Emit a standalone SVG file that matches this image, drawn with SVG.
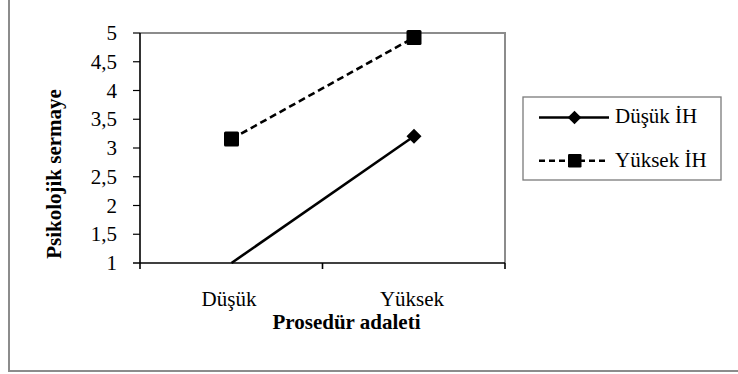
<svg xmlns="http://www.w3.org/2000/svg" width="738" height="374" viewBox="0 0 738 374" font-family="'Liberation Serif', Tinos, 'Times New Roman', Times, 'DejaVu Serif', serif">
<style>
text{font-family:"Liberation Serif",Tinos,"Times New Roman",Times,"DejaVu Serif",serif;font-size:21px;fill:#000}
.b{font-weight:bold}
.gray{stroke:#8c8c8c;stroke-width:2;fill:none}
.ax{stroke:#000;stroke-width:1.6;fill:none}
.solid{stroke:#000;stroke-width:2.6;fill:none}
.dash{stroke:#000;stroke-width:2.6;fill:none;stroke-dasharray:7 4}
</style>
<defs>
<rect id="sq" x="-7.5" y="-7.5" width="15" height="15" rx="1.5" fill="#000"/>
<path id="dm" d="M0,-7.5 L7.5,0 L0,7.5 L-7.5,0 Z" fill="#000"/>
</defs>
<rect width="738" height="374" fill="#fff"/>
<g id="frame">
<polyline class="gray" points="9,0 9,371 738,371"/>
</g>
<g id="plot-area">
<polyline class="gray" points="140,33 505,33 505,263"/>
</g>
<g id="axes">
<line class="ax" x1="140" y1="33" x2="140" y2="269"/>
<line class="ax" x1="133" y1="263" x2="505" y2="263"/>
<line class="ax" x1="322.5" y1="263" x2="322.5" y2="269"/>
<line class="ax" x1="505" y1="263" x2="505" y2="269"/>
<g stroke="#000" stroke-width="1.2">
<line x1="133" y1="33" x2="140" y2="33"/>
<line x1="133" y1="61.75" x2="140" y2="61.75"/>
<line x1="133" y1="90.5" x2="140" y2="90.5"/>
<line x1="133" y1="119.25" x2="140" y2="119.25"/>
<line x1="133" y1="148" x2="140" y2="148"/>
<line x1="133" y1="176.75" x2="140" y2="176.75"/>
<line x1="133" y1="205.5" x2="140" y2="205.5"/>
<line x1="133" y1="234.25" x2="140" y2="234.25"/>
</g>
<g text-anchor="end">
<text x="117" y="40">5</text>
<text x="117" y="68.75">4,5</text>
<text x="117" y="97.5">4</text>
<text x="117" y="126.25">3,5</text>
<text x="117" y="155">3</text>
<text x="117" y="183.75">2,5</text>
<text x="117" y="212.5">2</text>
<text x="117" y="241.25">1,5</text>
<text x="117" y="270">1</text>
</g>
<g text-anchor="middle">
<text x="229" y="306">Düşük</text>
<text x="412" y="306">Yüksek</text>
<text class="b" x="346.5" y="329">Prosedür adaleti</text>
<text class="b" transform="translate(61,174) rotate(-90)" x="0" y="0">Psikolojik sermaye</text>
</g>
</g>
<g id="connectors">
<line class="solid" x1="231.5" y1="263" x2="414" y2="136.3"/>
<line class="dash" x1="231.5" y1="139" x2="414" y2="37.5"/>
</g>
<g id="series-dusuk-ih">
<use href="#dm" x="414" y="136.3"/>
</g>
<g id="series-yuksek-ih">
<use href="#sq" x="231.5" y="139"/>
<use href="#sq" x="414" y="37.5"/>
</g>
<g id="legend">
<rect x="523" y="97" width="198" height="83" fill="#fff" stroke="#7a7a7a" stroke-width="1.3"/>
<line class="solid" x1="539" y1="117.5" x2="609" y2="117.5"/>
<path d="M574.5,110.7 L581.3,117.5 L574.5,124.3 L567.7,117.5 Z" fill="#000"/>
<text x="615" y="123.3">Düşük İH</text>
<line class="dash" x1="539" y1="160.7" x2="609" y2="160.7" style="stroke-dasharray:6 4"/>
<rect x="568" y="154" width="13.5" height="13.5" rx="1.2" fill="#000"/>
<text x="615" y="167">Yüksek İH</text>
</g>
</svg>
